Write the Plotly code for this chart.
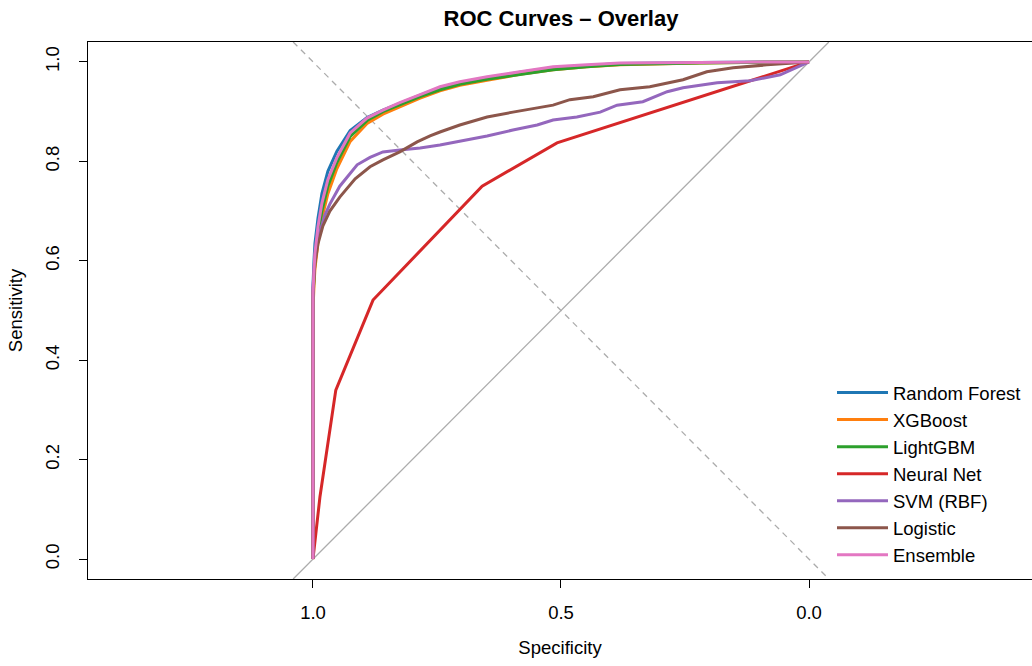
import plotly.graph_objects as go

# ---------------- data ----------------
models = ["Random Forest", "XGBoost", "LightGBM", "Neural Net", "SVM (RBF)", "Logistic", "Ensemble"]
colors = ["#1f77b4", "#ff7f0e", "#2ca02c", "#d62728", "#9467bd", "#8c564b", "#e377c2"]

spec_tree = [1.0, 1.0, 0.998, 0.996, 0.990, 0.982, 0.970, 0.952, 0.925, 0.891, 0.859, 0.825,
             0.784, 0.744, 0.704, 0.649, 0.583, 0.516, 0.448, 0.381, 0.220, 0.0]
sens_rf = [0.0, 0.55, 0.60, 0.635, 0.685, 0.735, 0.780, 0.820, 0.862, 0.888, 0.903, 0.917,
           0.933, 0.948, 0.958, 0.968, 0.979, 0.988, 0.993, 0.997, 0.999, 1.0]
sens_xgb = [0.0, 0.50, 0.55, 0.585, 0.635, 0.685, 0.735, 0.785, 0.840, 0.876, 0.895, 0.910,
            0.927, 0.942, 0.953, 0.963, 0.975, 0.984, 0.990, 0.994, 0.998, 1.0]
sens_lgbm = [0.0, 0.52, 0.565, 0.60, 0.65, 0.70, 0.75, 0.797, 0.850, 0.882, 0.900, 0.914,
             0.930, 0.944, 0.955, 0.965, 0.975, 0.984, 0.990, 0.995, 0.998, 1.0]
sens_ens = [0.0, 0.535, 0.58, 0.616, 0.668, 0.716, 0.763, 0.807, 0.857, 0.887, 0.903, 0.918,
            0.934, 0.950, 0.960, 0.970, 0.980, 0.990, 0.994, 0.998, 0.999, 1.0]

spec_nn = [1.0, 0.986, 0.954, 0.879, 0.659, 0.508, 0.0]
sens_nn = [0.0, 0.125, 0.340, 0.521, 0.750, 0.837, 1.0]

spec_svm = [1.0, 1.0, 0.996, 0.990, 0.986, 0.976, 0.966, 0.946, 0.925, 0.911, 0.885, 0.859, 0.825,
            0.784, 0.744, 0.704, 0.649, 0.597, 0.548, 0.516, 0.468, 0.421, 0.387, 0.335, 0.286,
            0.254, 0.185, 0.119, 0.058, 0.0]
sens_svm = [0.0, 0.545, 0.612, 0.640, 0.658, 0.692, 0.714, 0.750, 0.776, 0.793, 0.808, 0.819, 0.823,
            0.827, 0.833, 0.841, 0.851, 0.863, 0.873, 0.883, 0.889, 0.899, 0.913, 0.920, 0.940,
            0.948, 0.958, 0.962, 0.974, 1.0]

spec_log = [1.0, 1.0, 0.996, 0.990, 0.980, 0.966, 0.946, 0.915, 0.885, 0.859, 0.825, 0.790, 0.764,
            0.744, 0.704, 0.649, 0.597, 0.548, 0.516, 0.482, 0.435, 0.381, 0.321, 0.254, 0.206,
            0.153, 0.085, 0.0]
sens_log = [0.0, 0.535, 0.595, 0.634, 0.670, 0.700, 0.728, 0.765, 0.789, 0.803, 0.819, 0.839, 0.851,
            0.859, 0.873, 0.889, 0.899, 0.907, 0.913, 0.924, 0.930, 0.944, 0.950, 0.964, 0.980,
            0.988, 0.994, 1.0]

curves = [
    (spec_tree, sens_rf),
    (spec_tree, sens_xgb),
    (spec_tree, sens_lgbm),
    (spec_nn, sens_nn),
    (spec_svm, sens_svm),
    (spec_log, sens_log),
    (spec_tree, sens_ens),
]

x_ticks = [1.0, 0.5, 0.0]
x_tick_text = ["1.0", "0.5", "0.0"]
y_ticks = [0.0, 0.2, 0.4, 0.6, 0.8, 1.0]
y_tick_text = ["0.0", "0.2", "0.4", "0.6", "0.8", "1.0"]

# axis limits (R-style 4% padding, asp = 1 widening on x)
y_lo, y_hi = -0.04, 1.04
x_left, x_right = 1.4536, -0.4496

FONT = "Liberation Sans, Arial, Helvetica, sans-serif"

fig = go.Figure()

# reference diagonals (clipped to the plot box)
fig.add_trace(go.Scatter(x=[y_hi, y_lo], y=[y_lo, y_hi], mode="lines",
                         line=dict(color="#acacac", width=1.3), showlegend=False, hoverinfo="skip"))
fig.add_trace(go.Scatter(x=[y_hi, y_lo], y=[y_hi, y_lo], mode="lines",
                         line=dict(color="#acacac", width=1.3, dash="6px,5px"), showlegend=False,
                         hoverinfo="skip"))

for name, col, (sx, sy) in zip(models, colors, curves):
    fig.add_trace(go.Scatter(x=sx, y=sy, mode="lines", name=name,
                             line=dict(color=col, width=3)))

fig.update_layout(
    width=1032, height=666,
    margin=dict(l=88, r=0, t=42, b=87),
    paper_bgcolor="white", plot_bgcolor="white",
    font=dict(family=FONT, size=18.5, color="black"),
    title=dict(text="ROC Curves – Overlay", x=(88 + 1034) / 2 / 1032, xanchor="center",
               y=1 - 18 / 666, yanchor="middle",
               font=dict(family=FONT, size=22, weight="bold", color="black")),
    showlegend=True,
    legend=dict(x=(832 - 88) / 944, xanchor="left", y=(579 - 374) / 537, yanchor="top",
                bgcolor="rgba(0,0,0,0)", borderwidth=0, itemwidth=51,
                font=dict(family=FONT, size=18.5, color="black")),
    xaxis=dict(range=[x_left, x_right], tickvals=x_ticks, ticktext=x_tick_text,
               showgrid=False, zeroline=False, showline=True, linecolor="black", linewidth=1,
               mirror=True, ticks="outside", ticklen=8, tickcolor="black",
               ticklabelstandoff=9,
               title=dict(text="Specificity", standoff=18, font=dict(family=FONT, size=18.5))),
    yaxis=dict(range=[y_lo, y_hi], tickvals=y_ticks, ticktext=y_tick_text,
               showgrid=False, zeroline=False, showline=True, linecolor="black", linewidth=1,
               mirror=False, ticks="outside", ticklen=8, tickcolor="black", tickangle=-90,
               ticklabelstandoff=13,
               title=dict(text="Sensitivity", standoff=14, font=dict(family=FONT, size=18.5))),
)

fig.write_html("out.html")
